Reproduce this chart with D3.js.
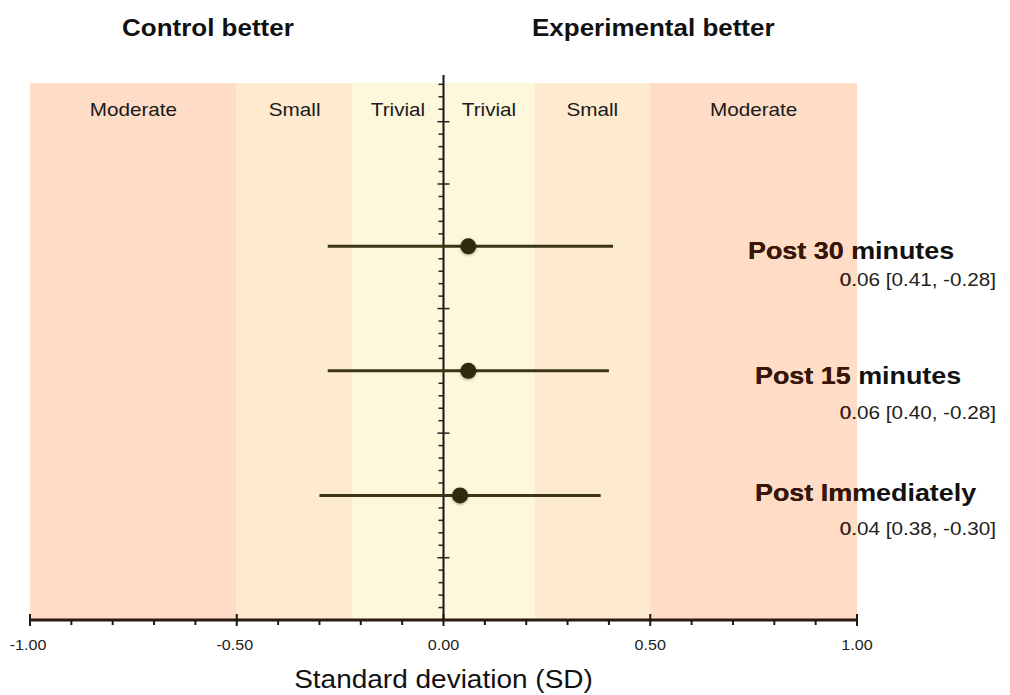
<!DOCTYPE html>
<html>
<head>
<meta charset="utf-8">
<script src="https://cdn.jsdelivr.net/npm/d3@7"></script>
<style>
  body { margin: 0; background: #fff; }
  svg text { font-family: "Liberation Sans", Arial, sans-serif; }
</style>
</head>
<body>
<div id="chart"></div>
<script>
// data
const outcomes = ["Post 30 minutes", "Post 15 minutes", "Post Immediately"];
const rowLevel = [6, 4, 2];
const effect = [0.06, 0.06, 0.04];
const ciUpper = [0.41, 0.40, 0.38];
const ciLower = [-0.28, -0.28, -0.30];

const bandNames = ["Moderate", "Small", "Trivial", "Trivial", "Small", "Moderate"];
const bandEdges = [-1, -0.5, -0.22, 0, 0.22, 0.5, 1];
const xTicks = [-1, -0.5, 0, 0.5, 1];
const sideLabels = ["Control better", "Experimental better"];
const xTitle = "Standard deviation (SD)";

const bandFill = {Moderate: "#fedcc5", Small: "#feeacf", Trivial: "#fdf7dc"};
const W = 1010, H = 695;
const stretch = 1.15;

const svg = d3.select("#chart").append("svg").attr("width", W).attr("height", H);

const x = d3.scaleLinear().domain([-1, 1]).range([30, 857]);
const y = d3.scaleLinear().domain([0, 8.75]).range([620, 75]);
// plain hyphen for negatives, like the original
const f2 = d3.formatLocale({decimal: ".", thousands: ",", grouping: [3], currency: ["", ""], minus: "-"}).format(".2f");

// text helper, glyphs in the picture are a bit wide
function label(g, px, py, txt, size, weight, anchor, fill, sx) {
  return g.append("text")
    .attr("transform", `translate(${px},${py}) scale(${sx || stretch},1)`)
    .attr("text-anchor", anchor || "start")
    .attr("font-size", size)
    .attr("font-weight", weight || "normal")
    .attr("fill", fill || "#111")
    .text(txt);
}

// bands
const bands = bandNames.map((n, i) => ({name: n, x0: bandEdges[i], x1: bandEdges[i + 1]}));
svg.append("g").selectAll("rect").data(bands).enter().append("rect")
  .attr("x", d => x(d.x0))
  .attr("y", y(8.62))
  .attr("width", d => x(d.x1) - x(d.x0))
  .attr("height", y(0) - y(8.62))
  .attr("fill", d => bandFill[d.name]);

const bl = svg.append("g");
bands.forEach(d => label(bl, (x(d.x0) + x(d.x1)) / 2, 116, d.name, 18, "normal", "middle", "#1a1a1a"));

// headers
label(svg, 122, 36, sideLabels[0], 23, "bold", "start", "#111", 1.13);
label(svg, 532, 36, sideLabels[1], 23, "bold", "start", "#111", 1.13);

// vertical axis at zero
const va = svg.append("g");
va.append("line").attr("x1", x(0)).attr("x2", x(0)).attr("y1", y(8.75)).attr("y2", y(0))
  .attr("stroke", "#151515").attr("stroke-width", 2);
const minorY = d3.range(0, 8.61, 0.2).filter(v => Math.abs(v - Math.round(v)) > 0.01);
va.selectAll("line.mn").data(minorY).enter().append("line").attr("class", "mn")
  .attr("x1", x(0) - 5).attr("x2", x(0)).attr("y1", d => y(d)).attr("y2", d => y(d))
  .attr("stroke", "#222").attr("stroke-width", 1.5);
va.selectAll("line.mj").data(d3.range(1, 9)).enter().append("line").attr("class", "mj")
  .attr("x1", x(0) - 6).attr("x2", x(0) + 6).attr("y1", d => y(d)).attr("y2", d => y(d))
  .attr("stroke", "#222").attr("stroke-width", 1.5);

// horizontal axis
const ha = svg.append("g");
ha.append("line").attr("x1", x(-1)).attr("x2", x(1)).attr("y1", y(0)).attr("y2", y(0))
  .attr("stroke", "#2a1a10").attr("stroke-width", 3);
const minorX = d3.range(-1, 1.001, 0.1).filter(v => Math.abs(v * 2 - Math.round(v * 2)) > 0.01);
ha.selectAll("line.mn").data(minorX).enter().append("line").attr("class", "mn")
  .attr("x1", d => x(d)).attr("x2", d => x(d)).attr("y1", y(0)).attr("y2", y(0) + 5)
  .attr("stroke", "#1a1a1a").attr("stroke-width", 2);
ha.selectAll("line.mj").data(xTicks).enter().append("line").attr("class", "mj")
  .attr("x1", d => x(d)).attr("x2", d => x(d)).attr("y1", y(0) - 6).attr("y2", y(0) + 6)
  .attr("stroke", "#1a1a1a").attr("stroke-width", 2);
xTicks.forEach(t => label(ha, x(t) - (t < 0 ? 2 : 0), 650, f2(t), 14, "normal", "middle", "#222"));
label(svg, x(0), 688, xTitle, 25, "normal", "middle", "#111", 1.12);

// shadow for points
const defs = svg.append("defs");
const flt = defs.append("filter").attr("id", "shd").attr("x", "-50%").attr("y", "-50%").attr("width", "200%").attr("height", "200%");
flt.append("feDropShadow").attr("dx", 0).attr("dy", 1).attr("stdDeviation", 1.5).attr("flood-opacity", 0.35);
defs.append("clipPath").attr("id", "bandClip").append("rect")
  .attr("x", x(-1)).attr("y", 0).attr("width", x(1) - x(-1)).attr("height", H);

// rows
const rows = outcomes.map((o, i) => ({name: o, lv: rowLevel[i], es: effect[i], hi: ciUpper[i], lo: ciLower[i]}));
const pts = svg.append("g");
pts.selectAll("line").data(rows).enter().append("line")
  .attr("x1", d => x(d.lo)).attr("x2", d => x(d.hi))
  .attr("y1", d => y(d.lv)).attr("y2", d => y(d.lv))
  .attr("stroke", "#3a3515").attr("stroke-width", 3);
pts.selectAll("circle").data(rows).enter().append("circle")
  .attr("cx", d => x(d.es)).attr("cy", d => y(d.lv)).attr("r", 8)
  .attr("fill", "#2e2a0e").attr("filter", "url(#shd)");

// right-hand labels, darker brown where they sit over the band
const nameX = [748, 755, 755];
const nameDy = [13, 13, 6];
const valDy = [40, 48, 40];
[["#111", "#222", null], ["#3a1608", "#3a2418", "url(#bandClip)"]].forEach(([c1, c2, clip]) => {
  const g = svg.append("g");
  if (clip) g.attr("clip-path", clip);
  rows.forEach((d, i) => {
    label(g, nameX[i], y(d.lv) + nameDy[i], d.name, 23, "bold", "start", c1, 1.17);
    label(g, 996, y(d.lv) + valDy[i], `${f2(d.es)} [${f2(d.hi)}, ${f2(d.lo)}]`, 18, "normal", "end", c2);
  });
});
</script>
</body>
</html>
